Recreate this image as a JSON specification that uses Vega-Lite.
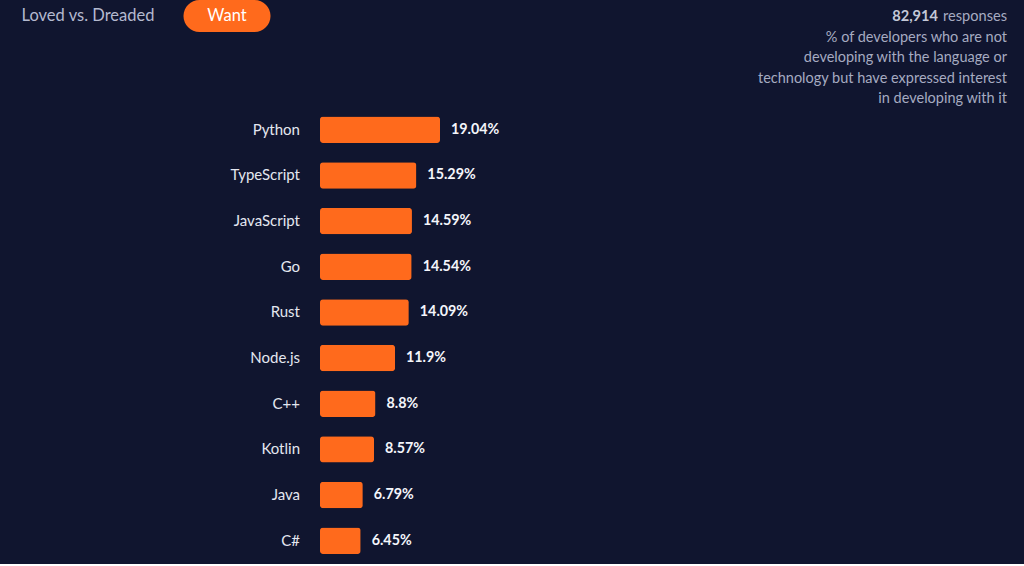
{
  "$schema": "https://vega.github.io/schema/vega-lite/v6.json",
  "background": "#10152f",
  "padding": {"left": 0, "top": 0, "right": 17, "bottom": 0},
  "autosize": {"type": "pad"},
  "spacing": 1,
  "config": {
    "view": {"stroke": null, "fill": "transparent"},
    "font": "Lato"
  },
  "datasets": {
    "want": [
      {"language": "Python", "share": 0.1904},
      {"language": "TypeScript", "share": 0.1529},
      {"language": "JavaScript", "share": 0.1459},
      {"language": "Go", "share": 0.1454},
      {"language": "Rust", "share": 0.1409},
      {"language": "Node.js", "share": 0.119},
      {"language": "C++", "share": 0.088},
      {"language": "Kotlin", "share": 0.0857},
      {"language": "Java", "share": 0.0679},
      {"language": "C#", "share": 0.0645}
    ]
  },
  "vconcat": [
    {
      "spacing": 0,
      "hconcat": [
        {
          "width": 315,
          "height": 32,
          "data": {"values": [
            {"tab": "Loved vs. Dreaded", "active": false},
            {"tab": "Want", "active": true}
          ]},
          "encoding": {
            "x": {
              "field": "tab", "type": "nominal", "axis": null,
              "scale": {"domain": ["Loved vs. Dreaded", "Want"], "paddingInner": 0.374, "paddingOuter": 0.32}
            }
          },
          "layer": [
            {
              "transform": [{"filter": "datum.active"}],
              "mark": {"type": "bar", "color": "#ff6a1c", "cornerRadius": 16}
            },
            {
              "mark": {"type": "text", "fontSize": 16.5, "baseline": "middle"},
              "encoding": {
                "text": {"field": "tab"},
                "color": {"condition": {"test": "datum.active", "value": "#ffffff"}, "value": "#b4b9cf"}
              }
            }
          ]
        },
        {
          "width": 692,
          "height": 32,
          "layer": [
            {
              "data": {"values": [{"responses": "responses", "count": "82,914"}]},
              "layer": [
                {
                  "mark": {"type": "text", "align": "right", "baseline": "middle", "fontSize": 14.6, "dy": 1, "color": "#a6abc1"},
                  "encoding": {"x": {"value": "width"}, "text": {"field": "responses"}}
                },
                {
                  "mark": {"type": "text", "align": "right", "baseline": "middle", "fontSize": 14.6, "dy": 1, "dx": -69, "fontWeight": "bold", "color": "#c4c8d7"},
                  "encoding": {"x": {"value": "width"}, "text": {"field": "count"}}
                }
              ]
            },
            {
              "data": {"values": [{"note": ["% of developers who are not", "developing with the language or", "technology but have expressed interest", "in developing with it"]}]},
              "mark": {"type": "text", "align": "right", "baseline": "top", "fontSize": 14.5, "lineHeight": 20.3, "dy": 15, "color": "#a6abc1"},
              "encoding": {"x": {"value": "width"}, "text": {"field": "note"}}
            }
          ]
        }
      ]
    },
    {
      "spacing": 20,
      "hconcat": [
        {
          "width": 300,
          "height": 456.5,
          "data": {"name": "want"},
          "mark": {"type": "text", "align": "right", "baseline": "middle", "fontSize": 15, "color": "#e4e7f0"},
          "encoding": {
            "y": {
              "field": "language", "type": "nominal", "axis": null,
              "sort": {"field": "share", "order": "descending"},
              "scale": {"paddingInner": 0.42, "paddingOuter": 0.21}
            },
            "x": {"value": "width"},
            "text": {"field": "language"}
          }
        },
        {
          "width": 687,
          "height": 456.5,
          "data": {"name": "want"},
          "encoding": {
            "y": {
              "field": "language", "type": "nominal", "axis": null,
              "sort": {"field": "share", "order": "descending"},
              "scale": {"paddingInner": 0.42, "paddingOuter": 0.21}
            },
            "x": {
              "field": "share", "type": "quantitative",
              "scale": {"domain": [0, 1.09], "nice": false},
              "axis": null
            }
          },
          "layer": [
            {"mark": {"type": "bar", "color": "#ff6a1c", "cornerRadius": 3}},
            {
              "mark": {"type": "text", "align": "left", "baseline": "middle", "dx": 11, "fontSize": 14.3, "fontWeight": "bold", "color": "#f4f5fb"},
              "encoding": {"text": {"field": "share", "format": ".4~%"}}
            }
          ]
        }
      ]
    }
  ]
}
